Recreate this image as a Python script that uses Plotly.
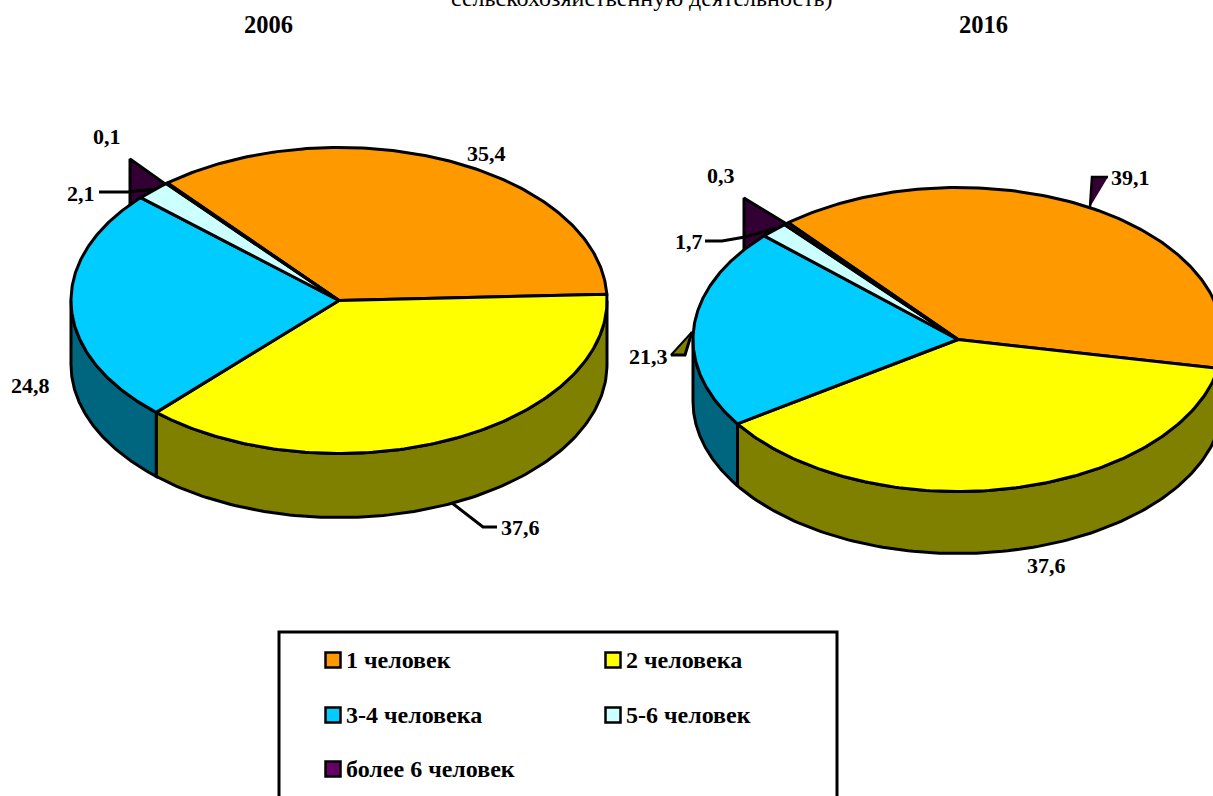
import numpy as np
import plotly.graph_objects as go

categories = ["1 человек", "2 человека", "3-4 человека", "5-6 человек", "более 6 человек"]
values_2006 = [35.4, 37.6, 24.8, 2.1, 0.1]
values_2016 = [39.1, 37.6, 21.3, 1.7, 0.3]
label_text_2006 = ["35,4", "37,6", "24,8", "2,1", "0,1"]
label_text_2016 = ["39,1", "37,6", "21,3", "1,7", "0,3"]
top_colors = ["#FF9900", "#FFFF00", "#00CCFF", "#CCFFFF", "#660066"]
side_colors = ["#804D00", "#808000", "#006680", "#668080", "#330033"]

FONT = "Liberation Serif"
W, H = 1213, 796
LW = 3
pies = [
    dict(values=values_2006, labels=label_text_2006, cx=339, cy=300.5, rx=268, ry=153, depth=64, start=129.8,
         label_xy=[(486, 153), (520, 527), (30, 385), (81, 193), (107, 136)]),
    dict(values=values_2016, labels=label_text_2016, cx=958, cy=339.5, rx=265, ry=152, depth=62, start=129.8,
         label_xy=[(1130, 177), (1046, 565), (648, 356), (689, 241), (721, 175)]),
]

fig = go.Figure()


def poly(xs, ys, fill, lw=LW):
    fig.add_trace(go.Scatter(x=xs, y=ys, mode="lines", fill="toself", fillcolor=fill,
                             line=dict(color="black", width=lw), hoverinfo="skip", showlegend=False))


def line(xs, ys, lw=LW, color="black"):
    fig.add_trace(go.Scatter(x=xs, y=ys, mode="lines", line=dict(color=color, width=lw),
                             hoverinfo="skip", showlegend=False))


# leader callouts that sit behind the pies
poly([130, 130, 168, 140], [206, 159, 186, 199], "#330033")
poly([744, 744, 790, 765], [260, 198, 226, 236], "#330033")
poly([692, 671, 685], [332, 355, 355], "#808000", lw=2)
line([671, 685, 692], [355, 355, 332], lw=3)
poly([1108, 1092, 1090], [177, 177, 207], "#330033", lw=2.5)
line([452, 483, 497], [503, 527, 527])

for p in pies:
    c = np.cumsum([0] + p["values"]) * 3.6
    a0 = p["start"] - c[:-1]
    a1 = p["start"] - c[1:]
    # side walls, front half of the ellipse only
    for i in range(len(p["values"])):
        for k in (0, 360, -360):
            lo = max(a1[i] + k, -180)
            hi = min(a0[i] + k, 0)
            if lo < hi:
                t = np.radians(np.linspace(hi, lo, 120))
                x = p["cx"] + p["rx"] * np.cos(t)
                y = p["cy"] - p["ry"] * np.sin(t)
                poly(np.r_[x, x[::-1], x[0]], np.r_[y, y[::-1] + p["depth"], y[0]], side_colors[i])
    # top faces
    for i in range(len(p["values"])):
        t = np.radians(np.linspace(a0[i], a1[i], 160))
        x = p["cx"] + p["rx"] * np.cos(t)
        y = p["cy"] - p["ry"] * np.sin(t)
        poly(np.r_[p["cx"], x, p["cx"]], np.r_[p["cy"], y, p["cy"]], top_colors[i])
    for txt, (lx, ly) in zip(p["labels"], p["label_xy"]):
        fig.add_annotation(x=lx, y=ly, text=f"<b>{txt}</b>", showarrow=False,
                           font=dict(family=FONT, size=22, color="black"))

# leaders drawn over the pies
line([99, 128, 156], [192, 192, 189])
line([705, 722, 745, 776], [241, 241, 237, 228])

# legend
fig.add_shape(type="rect", x0=279, y0=632, x1=837, y1=830, layer="below",
              line=dict(color="black", width=LW), fillcolor="white")
legend_x = [333, 333 + 280, 333, 333 + 280, 333]
legend_y = [660, 660, 715, 715, 769]
for name, col, lx, ly in zip(categories, top_colors, legend_x, legend_y):
    fig.add_trace(go.Scatter(x=[lx], y=[ly], mode="markers", hoverinfo="skip", showlegend=False,
                             marker=dict(symbol="square", size=15, color=col, line=dict(color="black", width=2.5))))
    fig.add_annotation(x=lx + 11, y=ly, text=f"<b>{name}</b>", showarrow=False, xanchor="left",
                       font=dict(family=FONT, size=24, color="black"))

# headings
fig.add_annotation(x=268.5, y=24, text="<b>2006</b>", showarrow=False, font=dict(family=FONT, size=24.5, color="black"))
fig.add_annotation(x=983, y=24, text="<b>2016</b>", showarrow=False, font=dict(family=FONT, size=24.5, color="black"))
fig.add_annotation(xref="x", x=642, yref="paper", y=1, yanchor="bottom", yshift=-13,
                   text="сельскохозяйственную деятельность)", showarrow=False,
                   font=dict(family=FONT, size=24, color="black"))

fig.update_xaxes(range=[0, W], visible=False, fixedrange=True)
fig.update_yaxes(range=[H, 0], visible=False, fixedrange=True)
fig.update_layout(width=W, height=H, margin=dict(l=0, r=0, t=0, b=0), paper_bgcolor="white",
                  plot_bgcolor="white", showlegend=False)
fig.write_html("out.html", config={"displayModeBar": False},
               post_script="document.body.style.margin='0';document.body.style.overflow='hidden';")
